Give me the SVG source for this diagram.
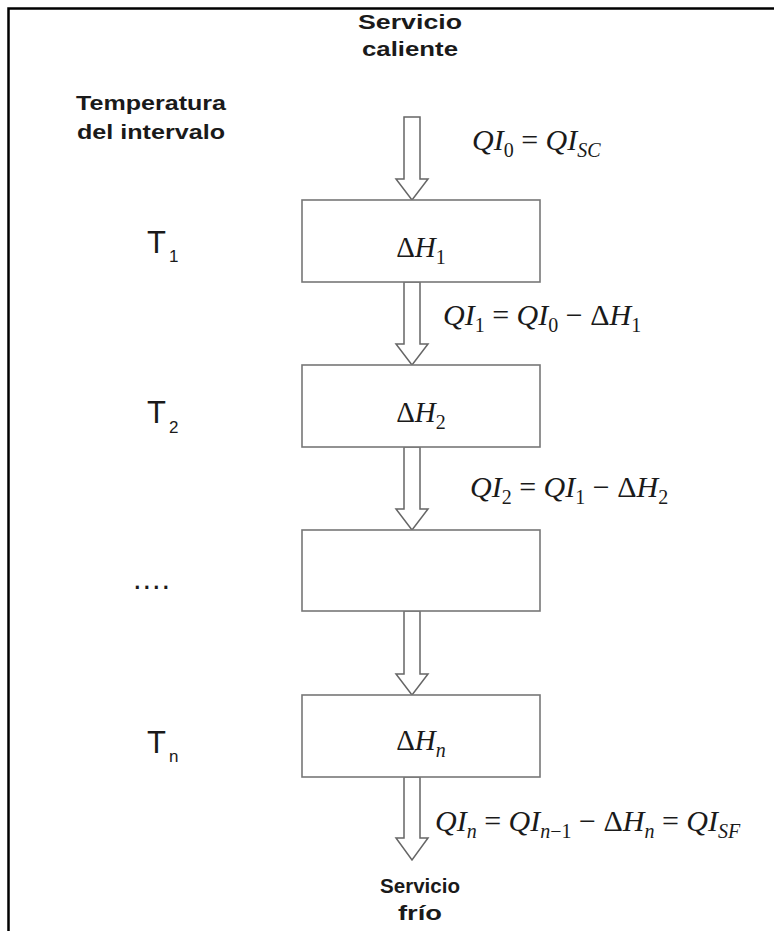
<svg xmlns="http://www.w3.org/2000/svg" width="774" height="931" viewBox="0 0 774 931">
<style>
.lbl{font-family:"Liberation Sans",Arial,sans-serif;font-weight:bold;font-size:21px;fill:#1a1a1a}
.t{font-family:"Liberation Sans",Arial,sans-serif;font-size:31px;fill:#1a1a1a}
.ts{font-size:17px}
.m{font-family:"Liberation Serif","Times New Roman",serif;font-style:italic;font-size:30px;fill:#1a1a1a}
.b{font-size:29px}
.u{font-style:normal}
.s{font-size:20px}
.box{fill:#fff;stroke:#777;stroke-width:1.6}
.arr{fill:#fff;stroke:#666;stroke-width:1.5;stroke-linejoin:miter}
</style>
<rect width="774" height="931" fill="#fff"/>
<path d="M8.5,931 V8.5 H774" fill="none" stroke="#000" stroke-width="2.5"/>

<g id="title-hot">
<text class="lbl" x="410" y="29" text-anchor="middle" textLength="104" lengthAdjust="spacingAndGlyphs">Servicio</text>
<text class="lbl" x="410" y="56" text-anchor="middle" textLength="96" lengthAdjust="spacingAndGlyphs">caliente</text>
</g>
<g id="title-temp">
<text class="lbl" x="151" y="110" text-anchor="middle" textLength="150" lengthAdjust="spacingAndGlyphs">Temperatura</text>
<text class="lbl" x="151" y="139" text-anchor="middle" textLength="148" lengthAdjust="spacingAndGlyphs">del intervalo</text>
</g>

<g id="connectors">
<path class="arr" d="M404,117 H420 V179 H428 L412,200 L396,179 H404 Z"/>
<path class="arr" d="M404,282 H420 V344 H428 L412,365 L396,344 H404 Z"/>
<path class="arr" d="M404,447 H420 V509 H428 L412,530 L396,509 H404 Z"/>
<path class="arr" d="M404,611 H420 V674 H428 L412,695 L396,674 H404 Z"/>
<path class="arr" d="M404,777 H420 V838 H428 L412,860 L396,838 H404 Z"/>
</g>

<g id="node-1">
<rect class="box" x="302" y="200" width="238" height="82"/>
<text class="m b" x="421" y="257" text-anchor="middle"><tspan class="u">Δ</tspan>H<tspan class="u s" dy="7">1</tspan></text>
</g>
<g id="node-2">
<rect class="box" x="302" y="365" width="238" height="82"/>
<text class="m b" x="421" y="422" text-anchor="middle"><tspan class="u">Δ</tspan>H<tspan class="u s" dy="7">2</tspan></text>
</g>
<g id="node-3">
<rect class="box" x="302" y="530" width="238" height="81"/>
</g>
<g id="node-n">
<rect class="box" x="302" y="695" width="238" height="82"/>
<text class="m b" x="421" y="750" text-anchor="middle"><tspan class="u">Δ</tspan>H<tspan class="s" dy="7">n</tspan></text>
</g>

<g id="temps">
<text class="t" x="147" y="253">T<tspan class="ts" dx="3" dy="9">1</tspan></text>
<text class="t" x="147" y="423">T<tspan class="ts" dx="3" dy="10">2</tspan></text>
<text class="t" x="133" y="589" fill="#444" textLength="37" lengthAdjust="spacing">....</text>
<text class="t" x="147" y="753">T<tspan class="ts" dx="3" dy="9">n</tspan></text>
</g>

<g id="eqs">
<text class="m" x="472" y="150">QI<tspan class="u s" dy="7">0</tspan><tspan class="u" dy="-7"> = </tspan>QI<tspan class="s" dy="7">SC</tspan></text>
<text class="m" x="443" y="325">QI<tspan class="u s" dy="7">1</tspan><tspan class="u" dy="-7"> = </tspan>QI<tspan class="u s" dy="7">0</tspan><tspan class="u" dy="-7"> − Δ</tspan>H<tspan class="u s" dy="7">1</tspan></text>
<text class="m" x="470" y="497">QI<tspan class="u s" dy="7">2</tspan><tspan class="u" dy="-7"> = </tspan>QI<tspan class="u s" dy="7">1</tspan><tspan class="u" dy="-7"> − Δ</tspan>H<tspan class="u s" dy="7">2</tspan></text>
<text class="m" x="435" y="831">QI<tspan class="s" dy="7">n</tspan><tspan class="u" dy="-7"> = </tspan>QI<tspan class="s" dy="7">n</tspan><tspan class="u s">−1</tspan><tspan class="u" dy="-7"> − Δ</tspan>H<tspan class="s" dy="7">n</tspan><tspan class="u" dy="-7"> = </tspan>QI<tspan class="s" dy="7">SF</tspan></text>
</g>

<g id="title-cold">
<text class="lbl" x="420" y="893" text-anchor="middle" textLength="80" lengthAdjust="spacingAndGlyphs">Servicio</text>
<text class="lbl" x="420" y="920" text-anchor="middle" textLength="44" lengthAdjust="spacingAndGlyphs">frío</text>
</g>
</svg>
